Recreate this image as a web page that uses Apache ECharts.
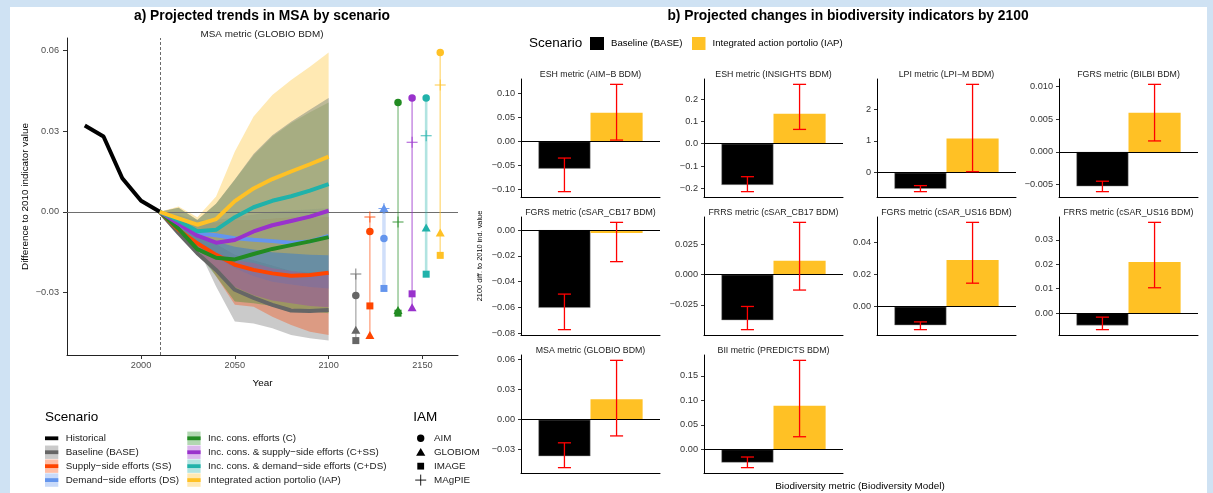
<!DOCTYPE html>
<html><head><meta charset="utf-8">
<script src="https://cdn.jsdelivr.net/npm/echarts@6/dist/echarts.min.js"></script>
<style>
html,body{margin:0;padding:0;background:#CFE2F3;width:1213px;height:493px;overflow:hidden;}
#paper{position:absolute;left:10px;top:7px;width:1197px;height:486px;background:#fff;}
#chart{position:absolute;left:0;top:0;width:1213px;height:493px;}
</style></head><body>
<div id="paper"></div><div id="chart"></div>
<script>
// ================= DATA: panel a (MSA, GLOBIO BDM) =================
const histYears = [1970, 1980, 1990, 2000, 2010];
const histValues = [0.0321, 0.0280, 0.0125, 0.0041, 0.0];
const projYears = [2010, 2020, 2030, 2040, 2050, 2060, 2070, 2080, 2090, 2100];
const scenarioNames = ['Baseline (BASE)', 'Supply\u2212side efforts (SS)', 'Demand\u2212side efforts (DS)',
  'Inc. cons. efforts (C)', 'Inc. cons. & supply\u2212side efforts (C+SS)',
  'Inc. cons. & demand\u2212side efforts (C+DS)', 'Integrated action portolio (IAP)'];
// scenario means
const meanBASE = [0, -0.0079, -0.0154, -0.0216, -0.0290, -0.0320, -0.0346, -0.0367, -0.0369, -0.0365];
const meanSS   = [0, -0.0067, -0.0117, -0.0160, -0.0197, -0.0216, -0.0229, -0.0238, -0.0235, -0.0227];
const meanDS   = [0, -0.0046, -0.0080, -0.0087, -0.0098, -0.0104, -0.0109, -0.0115, -0.0110, -0.0090];
const meanC    = [0, -0.0063, -0.0139, -0.0171, -0.0177, -0.0157, -0.0138, -0.0124, -0.0110, -0.0094];
const meanCSS  = [0, -0.0045, -0.0089, -0.0115, -0.0105, -0.0073, -0.0050, -0.0034, -0.0018, 0.0004];
const meanCDS  = [0, -0.0033, -0.0072, -0.0067, -0.0020, 0.0017, 0.0041, 0.0058, 0.0079, 0.0103];
const meanIAP  = [0, -0.0024, -0.0048, -0.0027, 0.0040, 0.0087, 0.0122, 0.0150, 0.0177, 0.0205];
// ribbons (min / max across IAMs)
const lowBASE = [0, -0.0075, -0.0130, -0.0278, -0.0408, -0.0415, -0.0433, -0.0458, -0.0470, -0.0479];
const highBASE = [0, -0.0040, -0.0080, -0.0120, -0.0160, -0.0180, -0.0200, -0.0220, -0.0225, -0.0231];
const lowSS = [0, -0.0070, -0.0130, -0.0240, -0.0346, -0.0353, -0.0390, -0.0421, -0.0446, -0.0458];
const highSS = [0, -0.0020, -0.0040, -0.0040, -0.0030, -0.0030, -0.0025, -0.0020, -0.0020, -0.0019];
const lowDS = [0, -0.0060, -0.0120, -0.0170, -0.0210, -0.0240, -0.0260, -0.0270, -0.0280, -0.0285];
const highDS = [0, -0.0010, -0.0030, -0.0030, -0.0020, -0.0010, 0.0000, 0.0005, 0.0010, 0.0014];
const lowC = [0, -0.0070, -0.0150, -0.0240, -0.0334, -0.0340, -0.0350, -0.0360, -0.0370, -0.0377];
const highC = [0, 0.0015, -0.0030, 0.0030, 0.0119, 0.0210, 0.0280, 0.0330, 0.0370, 0.0407];
const lowCSS = [0, -0.0070, -0.0140, -0.0220, -0.0280, -0.0310, -0.0330, -0.0340, -0.0350, -0.0355];
const highCSS = [0, 0.0015, -0.0030, 0.0030, 0.0120, 0.0215, 0.0285, 0.0335, 0.0380, 0.0423];
const lowCDS = [0, -0.0060, -0.0110, -0.0150, -0.0180, -0.0190, -0.0210, -0.0220, -0.0230, -0.0232];
const highCDS = [0, 0.0015, -0.0030, 0.0030, 0.0120, 0.0215, 0.0285, 0.0335, 0.0380, 0.0423];
const lowIAP = [0, -0.0050, -0.0090, -0.0110, -0.0130, -0.0140, -0.0150, -0.0155, -0.0160, -0.0162];
const highIAP = [0, 0.0020, -0.0020, 0.0057, 0.0224, 0.0355, 0.0435, 0.0490, 0.0540, 0.0593];
// 2100 values per IAM (order of scenarioNames)
const iamNames = ['AIM', 'GLOBIOM', 'IMAGE', 'MAgPIE'];
const valuesAIM     = [-0.0311, -0.0073, -0.0099, 0.0407, 0.0423, 0.0423, 0.0593];
const valuesGLOBIOM = [-0.0439, -0.0458, 0.0014, -0.0365, -0.0355, -0.0058, -0.0077];
const valuesIMAGE   = [-0.0479, -0.0350, -0.0285, -0.0377, -0.0305, -0.0232, -0.0162];
const valuesMAgPIE  = [-0.0231, -0.0019, 0.0012, -0.0038, 0.0259, 0.0283, 0.0472];
const yearTicksA = [2000, 2050, 2100, 2150];
const valueTicksA = [-0.03, 0, 0.03, 0.06];

// ================= DATA: panel b (2100 changes) =================
const panelTitles = ['ESH metric (AIM\u2212B BDM)', 'ESH metric (INSIGHTS BDM)', 'LPI metric (LPI\u2212M BDM)',
  'FGRS metric (BILBI BDM)', 'FGRS metric (cSAR_CB17 BDM)', 'FRRS metric (cSAR_CB17 BDM)',
  'FGRS metric (cSAR_US16 BDM)', 'FRRS metric (cSAR_US16 BDM)', 'MSA metric (GLOBIO BDM)', 'BII metric (PREDICTS BDM)'];
const barBASE = [-0.0570, -0.185, -0.513, -0.0053, -0.0604, -0.0378, -0.0116, -0.0050, -0.0365, -0.0271];
const barIAP  = [0.0598, 0.134, 1.08, 0.0060, -0.0023, 0.0114, 0.0288, 0.0209, 0.0205, 0.0889];
const errLowBASE  = [-0.1048, -0.215, -0.60, -0.0061, -0.0773, -0.0456, -0.0143, -0.0067, -0.0479, -0.0373];
const errHighBASE = [-0.0348, -0.148, -0.41, -0.0045, -0.0497, -0.0264, -0.0095, -0.0016, -0.0231, -0.0156];
const errLowIAP   = [0.0027, 0.064, 0.03, 0.00168, -0.0245, -0.0128, 0.0145, 0.0104, -0.0162, 0.0258];
const errHighIAP  = [0.1188, 0.266, 2.785, 0.01036, 0.0060, 0.0433, 0.0522, 0.0371, 0.0593, 0.1818];
const panelTicks = [
  [-0.10, -0.05, 0, 0.05, 0.10], [-0.2, -0.1, 0, 0.1, 0.2], [0, 1, 2], [-0.005, 0, 0.005, 0.010],
  [-0.08, -0.06, -0.04, -0.02, 0], [-0.025, 0, 0.025], [0, 0.02, 0.04], [0, 0.01, 0.02, 0.03],
  [-0.03, 0, 0.03, 0.06], [0, 0.05, 0.10, 0.15]];
const panelDecimals = [2, 1, 0, 3, 2, 3, 2, 2, 2, 2];

// ================= STYLE / LAYOUT =================
const FONT = '"Liberation Sans", Arial, Helvetica, sans-serif';
const scenarioColors = ['#666666', '#FF4500', '#6495ED', '#228B22', '#9932CC', '#20B2AA', '#FFC125'];
const segWidths = [1.6, 1.2, 3.5, 1.4, 1.4, 2.6, 1.6];
const segAlphas = [0.45, 0.55, 0.3, 0.5, 0.6, 0.35, 0.5];
const RIB_ALPHA = 0.35;
const meanArrays = [meanBASE, meanSS, meanDS, meanC, meanCSS, meanCDS, meanIAP];
const lowArrays = [lowBASE, lowSS, lowDS, lowC, lowCSS, lowCDS, lowIAP];
const highArrays = [highBASE, highSS, highDS, highC, highCSS, highCDS, highIAP];
const iamArrays = [valuesAIM, valuesGLOBIOM, valuesIMAGE, valuesMAgPIE];
const PLUS = 'path://M5,0h1v5h5v1h-5v5h-1v-5h-5v-1h5z';
const iamSymbols = ['circle', 'triangle', 'rect', PLUS];
const iamSizes = [7.5, [9, 8], 7, 11];
const dotX = i => 2114.5 + 7.5 * i;  // dodge position of each scenario's dots

const fmt = (v, d) => (v < 0 ? '\u2212' : '') + Math.abs(v).toFixed(d);
function rgba(hex, a) { const n = parseInt(hex.slice(1), 16); return `rgba(${n >> 16},${(n >> 8) & 255},${n & 255},${a})`; }
function expand(vals) { const lo = Math.min(...vals), hi = Math.max(...vals), e = (hi - lo) * 0.05; return [lo - e, hi + e]; }

const chart = echarts.init(document.getElementById('chart'), null, { renderer: 'canvas' });

const grids = [], xAxes = [], yAxes = [], series = [], graphics = [];
const tickLabelStyle = { color: '#4D4D4D', fontSize: 9.2, fontFamily: FONT };

// ---------- panel a ----------
const allA = [...histValues, ...lowArrays.flat(), ...highArrays.flat(), ...meanArrays.flat(),
  ...iamArrays.flat().filter(v => v != null)];
const yExtA = expand(allA);
const xExtA = expand([histYears[0], dotX(scenarioNames.length - 1)]);
grids.push({ left: 67, top: 38, width: 391, height: 317 });
xAxes.push({
  type: 'value', gridIndex: 0, min: xExtA[0], max: xExtA[1],
  axisLine: { show: true, onZero: false, lineStyle: { color: '#222', width: 1 } },
  axisTick: { show: true, length: 4, customValues: yearTicksA, lineStyle: { color: '#333' } },
  axisLabel: { customValues: yearTicksA, margin: 6, ...tickLabelStyle, formatter: v => String(v) },
  splitLine: { show: false }
});
yAxes.push({
  type: 'value', gridIndex: 0, min: yExtA[0], max: yExtA[1],
  axisLine: { show: true, onZero: false, lineStyle: { color: '#222', width: 1 } },
  axisTick: { show: true, length: 4, customValues: valueTicksA, lineStyle: { color: '#333' } },
  axisLabel: { customValues: valueTicksA, margin: 8, ...tickLabelStyle, formatter: v => fmt(v, 2) },
  splitLine: { show: false }
});
// ribbons
series.push({
  type: 'custom', xAxisIndex: 0, yAxisIndex: 0, z: 1, silent: true, clip: true,
  data: scenarioNames.map((n, i) => [i]),
  renderItem: (params, api) => {
    const i = api.value(0);
    const pts = [];
    projYears.forEach((y, k) => pts.push(api.coord([y, highArrays[i][k]])));
    for (let k = projYears.length - 1; k >= 0; k--) pts.push(api.coord([projYears[k], lowArrays[i][k]]));
    return { type: 'polygon', shape: { points: pts }, style: { fill: rgba(scenarioColors[i], RIB_ALPHA) } };
  }
});
// reference lines
series.push({
  type: 'line', xAxisIndex: 0, yAxisIndex: 0, data: [], silent: true,
  markLine: {
    z: 2, silent: true, symbol: ['none', 'none'], label: { show: false },
    data: [
      { yAxis: 0, lineStyle: { color: '#6E6E6E', width: 1, type: 'solid' } },
      { xAxis: 2010, lineStyle: { color: '#444', width: 0.8, type: [3, 2] } }
    ]
  }
});
// historical line
series.push({
  type: 'line', xAxisIndex: 0, yAxisIndex: 0, z: 3, symbol: 'none', silent: true,
  data: histYears.map((y, k) => [y, histValues[k]]),
  lineStyle: { color: '#000', width: 4 }
});
// scenario mean lines
meanArrays.forEach((arr, i) => series.push({
  type: 'line', xAxisIndex: 0, yAxisIndex: 0, z: 3, symbol: 'none', silent: true,
  data: projYears.map((y, k) => [y, arr[k]]),
  lineStyle: { color: scenarioColors[i], width: 4 }
}));
// vertical range segments for 2100 IAM values
series.push({
  type: 'custom', xAxisIndex: 0, yAxisIndex: 0, z: 3, silent: true,
  data: scenarioNames.map((n, i) => {
    const vals = iamArrays.map(a => a[i]).filter(v => v != null);
    return [dotX(i), Math.min(...vals), Math.max(...vals), i];
  }),
  renderItem: (params, api) => {
    const a = api.coord([api.value(0), api.value(1)]);
    const b = api.coord([api.value(0), api.value(2)]);
    const i = api.value(3);
    return { type: 'line', shape: { x1: a[0], y1: a[1], x2: b[0], y2: b[1] },
      style: { stroke: rgba(scenarioColors[i], segAlphas[i]), lineWidth: segWidths[i] } };
  }
});
// IAM points
iamArrays.forEach((arr, m) => series.push({
  type: 'scatter', xAxisIndex: 0, yAxisIndex: 0, z: 4, silent: true,
  symbol: iamSymbols[m], symbolSize: iamSizes[m],
  data: arr.map((v, i) => v == null ? null : { value: [dotX(i), v], itemStyle: { color: scenarioColors[i], opacity: m === 3 ? 0.85 : 1 } }).filter(d => d)
}));

// ---------- panel b ----------
const colLefts = [521, 704, 877, 1059], rowTops = [79, 217, 355], PW = 139, PH = 118;
panelTitles.forEach((title, p) => {
  const g = p + 1, col = p % 4, row = Math.floor(p / 4);
  const left = colLefts[col], top = rowTops[row];
  grids.push({ left, top, width: PW, height: PH });
  const ext = expand([0, barBASE[p], barIAP[p], errLowBASE[p], errHighBASE[p], errLowIAP[p], errHighIAP[p]]);
  xAxes.push({
    type: 'category', gridIndex: g, data: ['2100'],
    axisLine: { show: true, onZero: false, lineStyle: { color: '#000', width: 1 } },
    axisTick: { show: false }, axisLabel: { show: false }, splitLine: { show: false }
  });
  yAxes.push({
    type: 'value', gridIndex: g, min: ext[0], max: ext[1],
    axisLine: { show: true, onZero: false, lineStyle: { color: '#000', width: 1 } },
    axisTick: { show: true, length: 3, customValues: panelTicks[p], lineStyle: { color: '#333' } },
    axisLabel: { customValues: panelTicks[p], margin: 6, ...tickLabelStyle, color: '#333', formatter: v => fmt(v, panelDecimals[p]) },
    splitLine: { show: false }
  });
  series.push({
    type: 'bar', xAxisIndex: g, yAxisIndex: g, data: [barBASE[p]], barWidth: '37.5%', barGap: '0%', silent: true,
    itemStyle: { color: '#000', borderColor: 'rgba(150,150,150,0.8)', borderWidth: 0.6 },
    markLine: { z: 5, silent: true, symbol: ['none', 'none'], label: { show: false },
      data: [{ yAxis: 0 }], lineStyle: { color: '#000', width: 1.2, type: 'solid' } }
  });
  series.push({
    type: 'bar', xAxisIndex: g, yAxisIndex: g, data: [barIAP[p]], barWidth: '37.5%', barGap: '0%', silent: true,
    itemStyle: { color: '#FFC125' }
  });
  series.push({
    type: 'custom', xAxisIndex: g, yAxisIndex: g, z: 6, silent: true,
    data: [[0, errLowBASE[p], errHighBASE[p], -1], [0, errLowIAP[p], errHighIAP[p], 1]],
    renderItem: (params, api) => {
      const lo = api.coord([0, api.value(1)]);
      const hi = api.coord([0, api.value(2)]);
      const bw = api.size([1, 0])[0];
      const cx = lo[0] + api.value(3) * bw * 0.1875;
      const cap = bw * 0.047;
      const st = { stroke: '#FF0000', lineWidth: 1.3 };
      return { type: 'group', children: [
        { type: 'line', shape: { x1: cx, y1: lo[1], x2: cx, y2: hi[1] }, style: st },
        { type: 'line', shape: { x1: cx - cap, y1: lo[1], x2: cx + cap, y2: lo[1] }, style: st },
        { type: 'line', shape: { x1: cx - cap, y1: hi[1], x2: cx + cap, y2: hi[1] }, style: st }
      ] };
    }
  });
  graphics.push({ type: 'text', x: left + PW / 2, y: top - 4.5, silent: true,
    style: { text: title, font: `8.8px ${FONT}`, fill: '#1A1A1A', align: 'center', verticalAlign: 'middle' } });
});

// ---------- texts ----------
function txt(x, y, text, size, opts = {}) {
  graphics.push({ type: 'text', x, y, rotation: opts.rot || 0, silent: true,
    style: { text, font: `${opts.bold ? 'bold ' : ''}${size}px ${FONT}`, fill: opts.color || '#000',
      align: opts.align || 'center', verticalAlign: 'middle' } });
}
txt(262, 16, 'a) Projected trends in MSA by scenario', 13.8, { bold: true });
txt(262, 34, 'MSA metric (GLOBIO BDM)', 9.9, { color: '#1A1A1A' });
txt(25, 196.5, 'Difference to 2010 indicator value', 9.9, { rot: Math.PI / 2 });
txt(262.5, 383, 'Year', 9.9);
txt(848, 16, 'b) Projected changes in biodiversity indicators by 2100', 13.8, { bold: true });
txt(479.5, 256, '2100 diff. to 2010 ind. value', 7.4, { rot: Math.PI / 2 });
txt(860, 486.5, 'Biodiversity metric (Biodiversity Model)', 9.9);

// top legend (panel b)
txt(529, 43.5, 'Scenario', 13.5, { align: 'left' });
graphics.push({ type: 'rect', shape: { x: 590, y: 37, width: 14, height: 13 }, style: { fill: '#000' }, silent: true });
txt(611, 43.5, 'Baseline (BASE)', 9.6, { align: 'left' });
graphics.push({ type: 'rect', shape: { x: 692, y: 37, width: 13.5, height: 13 }, style: { fill: '#FFC125' }, silent: true });
txt(712.5, 43.5, 'Integrated action portolio (IAP)', 9.6, { align: 'left' });

// bottom-left legend (panel a)
txt(45, 417.3, 'Scenario', 13.5, { align: 'left' });
const legendItems = [{ name: 'Historical', color: '#000', ribbon: false }]
  .concat(scenarioNames.map((n, i) => ({ name: n, color: scenarioColors[i], ribbon: true })));
legendItems.forEach((it, k) => {
  const col = Math.floor(k / 4), r = k % 4;
  const kx = col ? 187.3 : 45, lx = col ? 208 : 65.7, cy = 438.3 + r * 13.93;
  if (it.ribbon) graphics.push({ type: 'rect', silent: true, shape: { x: kx, y: cy - 6.7, width: 13.3, height: 13.4 },
    style: { fill: rgba(it.color, RIB_ALPHA) } });
  graphics.push({ type: 'rect', silent: true, shape: { x: kx, y: cy - 1.9, width: 13.3, height: 3.8 }, style: { fill: it.color } });
  txt(lx, cy + 0.3, it.name, 9.8, { align: 'left', color: '#1A1A1A' });
});
txt(413.3, 417.3, 'IAM', 13.5, { align: 'left' });
iamNames.forEach((n, m) => {
  const cx = 420.7, cy = 438.3 + m * 13.93;
  if (m === 0) graphics.push({ type: 'circle', silent: true, shape: { cx, cy, r: 3.7 }, style: { fill: '#000' } });
  if (m === 1) graphics.push({ type: 'polygon', silent: true, shape: { points: [[cx, cy - 4.2], [cx - 4.6, cy + 3.6], [cx + 4.6, cy + 3.6]] }, style: { fill: '#000' } });
  if (m === 2) graphics.push({ type: 'rect', silent: true, shape: { x: cx - 3.4, y: cy - 3.4, width: 6.8, height: 6.8 }, style: { fill: '#000' } });
  if (m === 3) {
    graphics.push({ type: 'line', silent: true, shape: { x1: cx - 5.5, y1: cy, x2: cx + 5.5, y2: cy }, style: { stroke: '#000', lineWidth: 0.9 } });
    graphics.push({ type: 'line', silent: true, shape: { x1: cx, y1: cy - 5.5, x2: cx, y2: cy + 5.5 }, style: { stroke: '#000', lineWidth: 0.9 } });
  }
  txt(434, cy + 0.3, n, 9.8, { align: 'left', color: '#1A1A1A' });
});

chart.setOption({
  animation: false,
  backgroundColor: 'transparent',
  textStyle: { fontFamily: FONT },
  grid: grids, xAxis: xAxes, yAxis: yAxes, series, graphic: graphics
});
</script></body></html>
